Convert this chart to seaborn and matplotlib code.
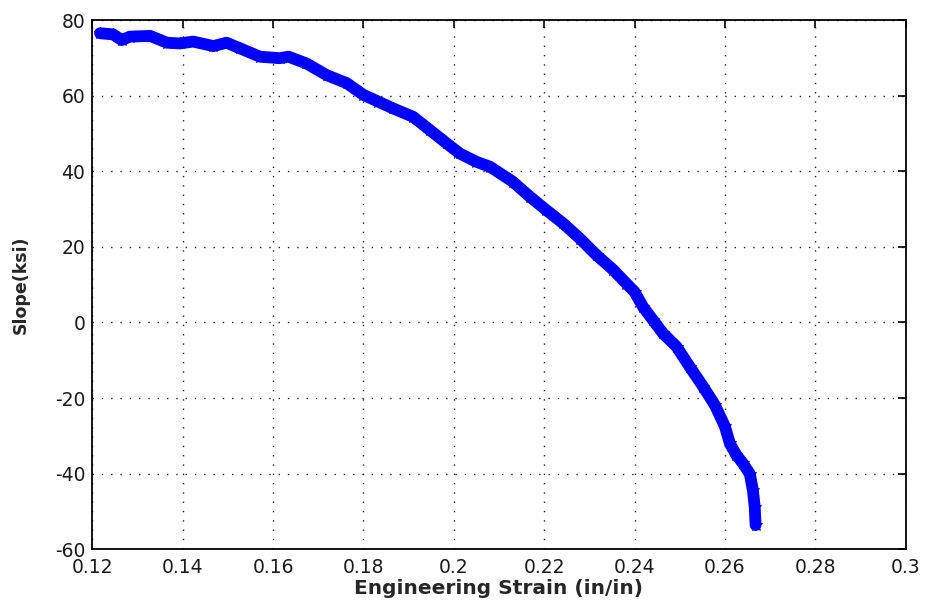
import numpy as np
import pandas as pd
import matplotlib
matplotlib.use("Agg")
import matplotlib.pyplot as plt
import seaborn as sns

# Engineering strain (in/in) and tangent slope (ksi) along the test record
strain = [0.1217, 0.1246, 0.1265, 0.1283, 0.1328, 0.1365, 0.1394, 0.1423,
          0.1468, 0.1497, 0.1527, 0.1571, 0.1615, 0.1634, 0.1674, 0.1719,
          0.1763, 0.1800, 0.1833, 0.1866, 0.1910, 0.1947, 0.1984, 0.2013,
          0.2050, 0.2080, 0.2131, 0.2168, 0.2205, 0.2242, 0.2279, 0.2316,
          0.2353, 0.2382, 0.2400, 0.2419, 0.2441, 0.2463, 0.2493, 0.2522,
          0.2552, 0.2578, 0.2600, 0.2611, 0.2625, 0.2640, 0.2655, 0.2662,
          0.2666, 0.2668]
slope = [76.5, 76.2, 74.7, 75.6, 75.8, 74.0, 73.8, 74.3,
         73.1, 74.0, 72.5, 70.3, 69.9, 70.3, 68.5, 65.4,
         63.3, 60.2, 58.4, 56.6, 54.4, 50.9, 47.4, 44.7,
         42.5, 41.2, 37.2, 33.3, 29.7, 26.2, 22.2, 17.8,
         13.9, 10.3, 8.1, 4.1, 0.6, -2.9, -6.4, -11.7,
         -17.0, -21.9, -27.5, -32.0, -35.0, -37.3, -40.0, -44.4,
         -48.8, -53.6]

x_ticks = [0.12, 0.14, 0.16, 0.18, 0.2, 0.22, 0.24, 0.26, 0.28, 0.3]
x_labels = ["0.12", "0.14", "0.16", "0.18", "0.2", "0.22", "0.24", "0.26", "0.28", "0.3"]
y_ticks = [-60, -40, -20, 0, 20, 40, 60, 80]

df = pd.DataFrame({"strain": strain, "slope": slope})

sns.set_style("white")
plt.rcParams["font.family"] = ["DejaVu Sans"]
plt.rcParams["lines.scale_dashes"] = False
plt.rcParams["axes.unicode_minus"] = False

fig = plt.figure(figsize=(9.26, 6.12), dpi=100)
ax = fig.add_axes([0.0997, 0.1025, 0.8783, 0.8648])

sns.lineplot(data=df, x="strain", y="slope", ax=ax, color="#0000ff",
             linewidth=8.5, marker="*", markersize=9, markeredgewidth=0.8,
             markeredgecolor="#0000ff", sort=False, estimator=None)

ax.set_xlim(0.12, 0.3)
ax.set_ylim(-60, 80)
ax.set_xticks(x_ticks)
ax.set_xticklabels(x_labels)
ax.set_yticks(y_ticks)

ax.grid(True, color="#222222", linestyle=(0, (1.0, 5.7)), linewidth=1.0)
ax.set_axisbelow(True)

for s in ax.spines.values():
    s.set_visible(True)
    s.set_color("black")
    s.set_linewidth(1.3)

ax.tick_params(axis="both", direction="in", length=6, width=1.2,
               top=True, right=True, labelsize=13.5,
               colors="black", labelcolor="#1a1a1a")
ax.tick_params(axis="x", pad=6)
ax.tick_params(axis="y", pad=5)

ax.set_xlabel("Engineering Strain (in/in)", fontsize=14.5, fontweight="bold",
              labelpad=2)
ax.set_ylabel("Slope(ksi)", fontsize=12.5, fontweight="bold", labelpad=18)

fig.savefig("out.png", dpi=100, facecolor="white")
